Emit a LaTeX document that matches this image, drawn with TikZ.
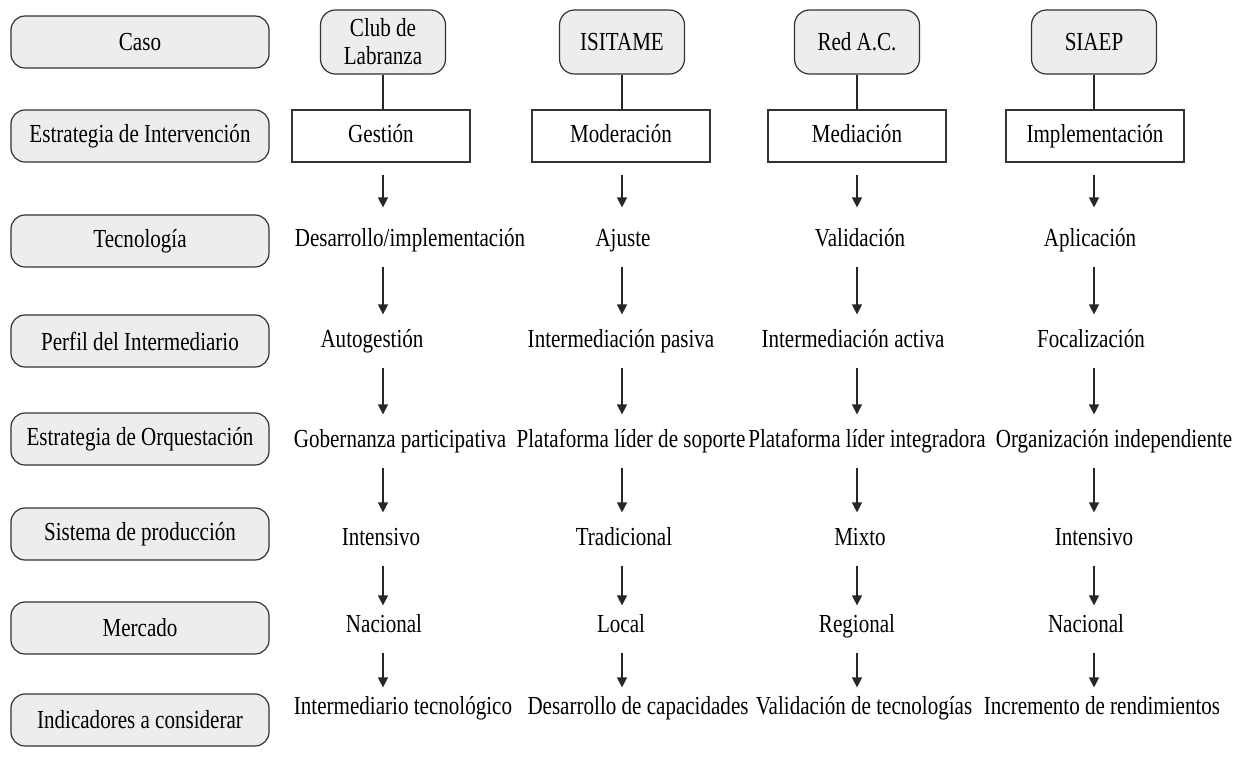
\documentclass[tikz,border=0pt]{standalone}
\usepackage{fontspec}
\setmainfont{Liberation Serif}[FakeStretch=0.81]
\usetikzlibrary{arrows.meta}

\begin{document}
\begin{tikzpicture}[x=1pt,y=-1pt,line width=1.2pt,>={Triangle[length=10pt,width=10pt]},
    font=\fontsize{26}{28}\selectfont,
    etiq/.style={draw=black!80,fill=black!7,rounded corners=14pt,minimum width=258pt,minimum height=52pt},
    caso/.style={draw=black!80,fill=black!7,rounded corners=15pt,minimum width=125pt,minimum height=64pt,align=center},
    estr/.style={draw=black!80,minimum width=178pt,minimum height=52pt,text height=17pt,text depth=5pt},
    txt/.style={inner sep=0pt,text height=17pt,text depth=5pt},
    flecha/.style={->,draw=black!85,shorten <=15pt,shorten >=15pt}]
\useasboundingbox (0,0) rectangle (1246,756);
% rotulos
\node[etiq] (r1) at (140,42) {Caso};
\node[etiq] (r2) at (140,136) {Estrategia de Intervención};
\node[etiq] (r3) at (140,241) {Tecnología};
\node[etiq] (r4) at (140,341) {Perfil del Intermediario};
\node[etiq] (r5) at (140,439) {Estrategia de Orquestación};
\node[etiq] (r6) at (140,534) {Sistema de producción};
\node[etiq] (r7) at (140,628) {Mercado};
\node[etiq] (r8) at (140,720) {Indicadores a considerar};
% columnas
\coordinate (c1) at (383,0);
\coordinate (c2) at (622,0);
\coordinate (c3) at (857,0);
\coordinate (c4) at (1094,0);
\node[caso] (caso1) at (383,42) {Club de\\Labranza};
\node[caso] (caso2) at (622,42) {ISITAME};
\node[caso] (caso3) at (857,42) {Red A.C.};
\node[caso] (caso4) at (1094,42) {SIAEP};
\node[estr] (est1) at (381,136) {Gestión};
\node[estr] (est2) at (621,136) {Moderación};
\node[estr] (est3) at (857,136) {Mediación};
\node[estr] (est4) at (1095,136) {Implementación};
\node[txt] (tec1) at (410,240) {Desarrollo/implementación};
\node[txt] (tec2) at (623,240) {Ajuste};
\node[txt] (tec3) at (860,240) {Validación};
\node[txt] (tec4) at (1090,240) {Aplicación};
\node[txt] (per1) at (372,341) {Autogestión};
\node[txt] (per2) at (621,341) {Intermediación pasiva};
\node[txt] (per3) at (853,341) {Intermediación activa};
\node[txt] (per4) at (1091,341) {Focalización};
\node[txt] (orq1) at (400,441) {Gobernanza participativa};
\node[txt] (orq2) at (631,441) {Plataforma líder de soporte};
\node[txt] (orq3) at (867,441) {Plataforma líder integradora};
\node[txt] (orq4) at (1114,441) {Organización independiente};
\node[txt] (sis1) at (381,539) {Intensivo};
\node[txt] (sis2) at (624,539) {Tradicional};
\node[txt] (sis3) at (860,539) {Mixto};
\node[txt] (sis4) at (1094,539) {Intensivo};
\node[txt] (mer1) at (384,626) {Nacional};
\node[txt] (mer2) at (621,626) {Local};
\node[txt] (mer3) at (857,626) {Regional};
\node[txt] (mer4) at (1086,626) {Nacional};
\node[txt] (ind1) at (403,708) {Intermediario tecnológico};
\node[txt] (ind2) at (638,708) {Desarrollo de capacidades};
\node[txt] (ind3) at (864,708) {Validación de tecnologías};
\node[txt] (ind4) at (1102,708) {Incremento de rendimientos};
% conectores
\foreach \i in {1,...,4}{
    \draw[black!85] (caso\i) -- (est\i.north -| c\i);
    \draw[flecha,shorten <=12pt,shorten >=21pt] (est\i.south -| c\i) -- (tec\i.north -| c\i);
    \draw[flecha] (tec\i.south -| c\i) -- (per\i.north -| c\i);
    \draw[flecha] (per\i.south -| c\i) -- (orq\i.north -| c\i);
    \draw[flecha] (orq\i.south -| c\i) -- (sis\i.north -| c\i);
    \draw[flecha,shorten >=9pt] (sis\i.south -| c\i) -- (mer\i.north -| c\i);
    \draw[flecha,shorten >=9pt] (mer\i.south -| c\i) -- (ind\i.north -| c\i);
}
\end{tikzpicture}
\end{document}
